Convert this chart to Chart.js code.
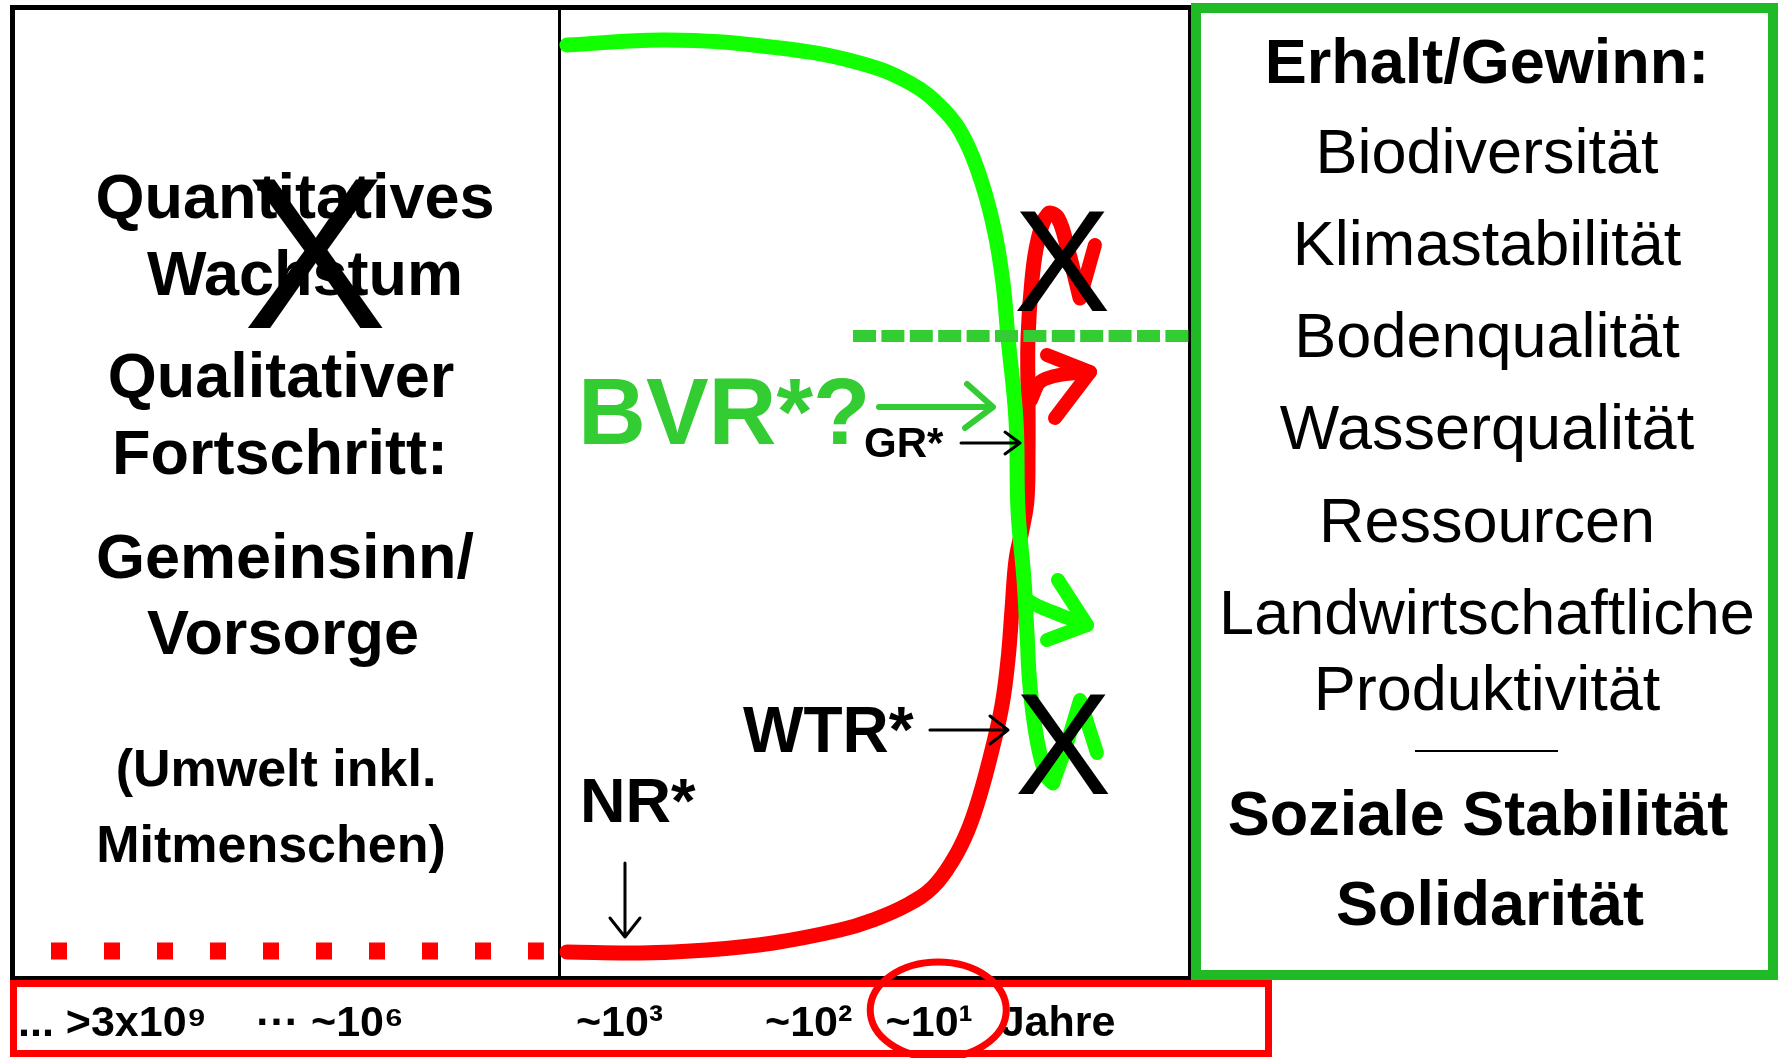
<!DOCTYPE html>
<html>
<head>
<meta charset="utf-8">
<script src="https://cdn.jsdelivr.net/npm/chart.js@4.4.1/dist/chart.umd.min.js"></script>
<style>
  html, body { margin: 0; padding: 0; background: #fff; }
  #wrap { position: relative; width: 1778px; height: 1058px; overflow: hidden; }
  .box { position: absolute; box-sizing: border-box; }
  #chart { position: absolute; left: 0; top: 0; }
  .t { position: absolute; white-space: nowrap; line-height: 1; font-family: 'Liberation Sans', Arial, sans-serif; color: #000; }
  .b { font-weight: bold; }
  .c { transform: translateX(-50%); }
</style>
</head>
<body>
<div id="wrap">
  <!-- frames -->
  <div class="box" style="left:10px;top:5px;width:1183px;height:976px;border:5px solid #000;"></div>
  <div class="box" style="left:558px;top:5px;width:3px;height:976px;background:#000;"></div>
  <div class="box" style="left:1191px;top:3px;width:587px;height:977px;border:10px solid #1fba26;"></div>
  <div class="box" style="left:10px;top:980px;width:1262px;height:77px;border:7px solid #ff0000;"></div>

  <canvas id="chart" width="1778" height="1058"></canvas>

  <!-- left panel -->
  <div class="t b c" style="left:295px;top:165px;font-size:63px;">Quantitatives</div>
  <div class="t b c" style="left:305px;top:242px;font-size:63px;">Wachstum</div>
  <div class="t c" style="left:315px;top:145px;font-size:216px;">X</div>
  <div class="t b c" style="left:281px;top:344px;font-size:63px;">Qualitativer</div>
  <div class="t b c" style="left:280px;top:421px;font-size:63px;">Fortschritt:</div>
  <div class="t b c" style="left:285px;top:525px;font-size:63px;">Gemeinsinn/</div>
  <div class="t b c" style="left:283px;top:601px;font-size:63px;">Vorsorge</div>
  <div class="t b c" style="left:276px;top:742px;font-size:52px;">(Umwelt inkl.</div>
  <div class="t b c" style="left:271px;top:818px;font-size:52px;">Mitmenschen)</div>

  <!-- middle panel labels -->
  <div class="t b" style="left:578px;top:365px;font-size:94px;color:#33cc33;">BVR*?</div>
  <div class="t b" style="left:864px;top:422px;font-size:42px;">GR*</div>
  <div class="t b" style="left:743px;top:698px;font-size:64px;">WTR*</div>
  <div class="t b" style="left:580px;top:769px;font-size:63px;">NR*</div>
  <div class="t c" style="left:1062px;top:189px;font-size:145px;">X</div>
  <div class="t c" style="left:1063px;top:672px;font-size:145px;">X</div>

  <!-- right box -->
  <div class="t b c" style="left:1487px;top:30px;font-size:63px;">Erhalt/Gewinn:</div>
  <div class="t c" style="left:1487px;top:120px;font-size:63px;">Biodiversität</div>
  <div class="t c" style="left:1487px;top:212px;font-size:63px;">Klimastabilität</div>
  <div class="t c" style="left:1487px;top:304px;font-size:63px;">Bodenqualität</div>
  <div class="t c" style="left:1487px;top:396px;font-size:63px;">Wasserqualität</div>
  <div class="t c" style="left:1487px;top:489px;font-size:63px;">Ressourcen</div>
  <div class="t c" style="left:1487px;top:581px;font-size:63px;">Landwirtschaftliche</div>
  <div class="t c" style="left:1487px;top:657px;font-size:63px;">Produktivität</div>
  <div class="box" style="left:1415px;top:750px;width:143px;height:2px;background:#000;"></div>
  <div class="t b c" style="left:1478px;top:782px;font-size:63px;">Soziale Stabilität</div>
  <div class="t b c" style="left:1490px;top:872px;font-size:63px;">Solidarität</div>
</div>

<script>
// axis: position 0-100 across left + middle panel, level 0-100 bottom to top
const tickPos = [8.5, 26.9, 51.4, 67.4, 77.6, 88.5];
const tickLabels = ['... >3x10⁹', '··· ~10⁶', '~10³', '~10²', '~10¹', 'Jahre'];
const markedTick = 4;

// red curve (rising)
const redX = [46.95, 53.13, 58.80, 64.38, 70.05, 72.84, 75.72, 77.92, 79.61, 80.88, 81.89, 82.91, 83.76, 84.26,
              84.60, 84.94, 85.45, 85.87, 85.96, 85.96, 85.96, 86.29, 86.80, 87.65, 88.49, 89.34, 90.36];
const redY = [2.38, 2.28, 2.59, 3.31, 4.65, 5.69, 7.24, 9.10, 11.89, 14.99, 18.61, 23.27, 27.92, 32.57,
              37.75, 42.92, 46.02, 49.12, 54.29, 59.46, 65.98, 71.87, 76.01, 78.70, 78.28, 74.97, 70.01];
const redTipX = [90.36, 91.62];
const redTipY = [70.01, 75.49];
const redArrowX = [86.21, 86.97, 88.66, 91.20];
const redArrowY = [59.46, 61.32, 62.05, 62.36];
const redHeadX = [87.56, 91.20, 88.24];
const redHeadY = [64.12, 62.36, 57.60];
const redDotX = [3.3, 45.0];
const redDotY = [2.48, 2.48];

// green curve (falling)
const greenX = [46.95, 55.33, 64.21, 71.40, 75.97, 78.85, 80.63, 82.06, 83.16, 83.84, 84.26, 84.94,
                85.11, 85.62, 85.87, 86.13, 86.72, 87.48, 88.07];
const greenY = [96.17, 96.69, 95.97, 94.42, 92.24, 89.45, 86.35, 81.90, 76.73, 71.56, 65.98, 57.39,
                48.09, 40.85, 35.37, 29.78, 24.30, 20.68, 19.86];
const greenHookX = [88.07, 89.09, 90.36, 91.79];
const greenHookY = [19.86, 23.27, 28.44, 22.96];
const greenArrowX = [85.87, 86.97, 88.66, 90.95];
const greenArrowY = [38.78, 38.06, 37.23, 36.19];
const greenHeadX = [88.49, 90.95, 87.56];
const greenHeadY = [40.85, 36.19, 34.64];
const limitX = [71.15, 99.75];
const limitY = [66.08, 66.08];

// pointer arrows: start, tip, arm, tip, arm
const bvrX = [73.35, 82.99, 80.80, 82.99, 80.63];
const bvrY = [58.74, 58.74, 61.12, 58.74, 56.57];
const grX = [80.29, 85.28, 84.01, 85.28, 84.01];
const grY = [55.02, 55.02, 56.15, 55.02, 53.88];
const wtrX = [77.66, 84.26, 82.74, 84.26, 82.74];
const wtrY = [25.34, 25.34, 26.78, 25.34, 23.89];
const nrX = [51.86, 51.86, 50.59, 51.86, 53.13];
const nrY = [11.58, 3.93, 5.89, 3.93, 5.89];

const RED = '#ff0000';
const GREEN = '#11ff00';
const LIME = '#33cc33';

function pts(xs, ys) {
    return xs.map((x, i) => ({ x: x, y: ys[i] }));
}

function line(xs, ys, color, width, order, extra) {
    return Object.assign({
        data: pts(xs, ys),
        showLine: true,
        borderColor: color,
        borderWidth: width,
        pointRadius: 0,
        tension: 0,
        borderCapStyle: 'round',
        borderJoinStyle: 'round',
        order: order
    }, extra || {});
}

const ringPlugin = {
    id: 'ring',
    afterDraw(chart) {
        const sx = chart.scales.x;
        const ctx = chart.ctx;
        const cx = sx.getPixelForValue(tickPos[markedTick]) + 9;
        ctx.save();
        ctx.strokeStyle = RED;
        ctx.lineWidth = 7;
        ctx.beginPath();
        ctx.ellipse(cx, sx.top + 35, 68, 48, 0, 0, Math.PI * 2);
        ctx.stroke();
        ctx.restore();
    }
};

new Chart(document.getElementById('chart').getContext('2d'), {
    type: 'scatter',
    data: {
        datasets: [
            line(redDotX, redDotY, RED, 17, 6, { borderDash: [16, 37], borderCapStyle: 'butt' }),
            line(redX, redY, RED, 15, 5, { tension: 0.4 }),
            line(redTipX, redTipY, RED, 14, 5),
            line(redArrowX, redArrowY, RED, 14, 5, { tension: 0.3 }),
            line(redHeadX, redHeadY, RED, 14, 5),
            line(greenX, greenY, GREEN, 15, 3, { tension: 0.4 }),
            line(greenHookX, greenHookY, GREEN, 14, 3),
            line(greenArrowX, greenArrowY, GREEN, 14, 3, { tension: 0.3 }),
            line(greenHeadX, greenHeadY, GREEN, 14, 3),
            line(limitX, limitY, LIME, 12, 2, { borderDash: [23, 5.4], borderCapStyle: 'butt' }),
            line(bvrX, bvrY, LIME, 6, 1),
            line(grX, grY, '#000', 3, 1),
            line(wtrX, wtrY, '#000', 3, 1),
            line(nrX, nrY, '#000', 3, 1)
        ]
    },
    options: {
        responsive: false,
        animation: false,
        events: [],
        layout: { padding: { left: 12, right: 584, top: 8, bottom: 8 } },
        plugins: { legend: { display: false }, tooltip: { enabled: false } },
        scales: {
            x: {
                type: 'linear',
                min: 0,
                max: 100,
                grid: { display: false, drawTicks: false },
                border: { display: false },
                afterBuildTicks: (scale) => { scale.ticks = tickPos.map(v => ({ value: v })); },
                afterFit: (scale) => {
                    scale.height = 75;
                    scale.paddingLeft = 0;
                    scale.paddingRight = 0;
                },
                ticks: {
                    autoSkip: false,
                    maxRotation: 0,
                    padding: 23,
                    color: '#000',
                    font: { family: "'Liberation Sans', Arial, sans-serif", weight: 'bold', size: 43 },
                    callback: (value, index) => tickLabels[index]
                }
            },
            y: { display: false, min: 0, max: 100 }
        }
    },
    plugins: [ringPlugin]
});
</script>
</body>
</html>
